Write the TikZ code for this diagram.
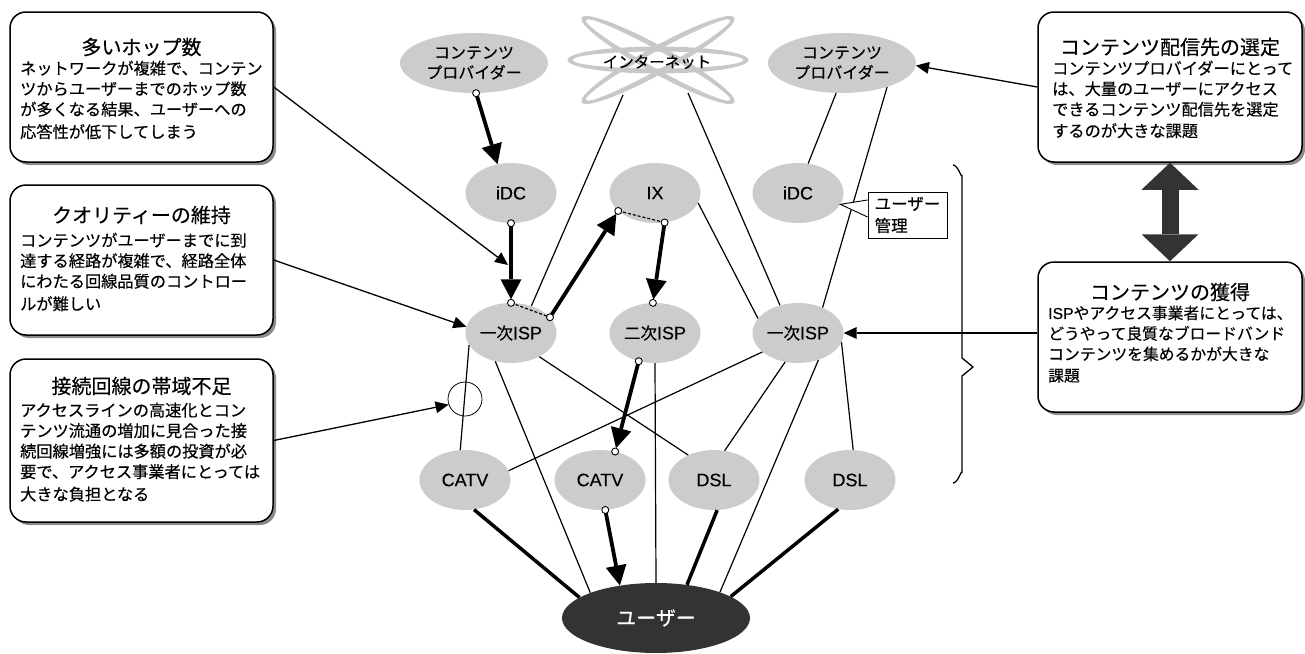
\documentclass[tikz,border=0pt]{standalone}
\usepackage{fontspec}
\setmainfont{Noto Sans CJK JP}[FakeBold=0.35]
\newfontfamily\lat{Liberation Sans}[FakeBold=0.25]
\usetikzlibrary{shapes.geometric,arrows.meta,shadows}
\definecolor{nodegray}{HTML}{CCCCCC}
\definecolor{darkfill}{HTML}{333333}
\definecolor{inetgray}{HTML}{C8C8C8}
\newcommand\latn[1]{{\lat\fontsize{18}{20}\selectfont #1}}
\begin{document}
\begin{tikzpicture}[x=1pt,y=-1pt,
 gnode/.style={ellipse, fill=nodegray, minimum width=91pt, minimum height=60pt, inner sep=0pt, font=\fontsize{16.5}{20}\selectfont, align=center},
 cpnode/.style={gnode, minimum width=148pt, font=\fontsize{16}{20}\selectfont},
 thinline/.style={line width=1.2pt},
 thickline/.style={line width=3.5pt},
 fatarrow/.style={line width=3.8pt, -{Triangle[length=20pt,width=21pt,line width=0pt]}, shorten <=3pt},
 callarrow/.style={line width=1.3pt, -{Triangle[length=13pt,width=12pt,line width=0pt]}},
 dotmark/.style={fill=white, draw=black, line width=0.9pt},
 dashedlink/.style={line width=1.2pt, dash pattern=on 3pt off 2pt},
 infobox/.style={draw, line width=1.5pt, rounded corners=16pt, fill=white, inner sep=0pt,
   drop shadow={shadow xshift=3pt, shadow yshift=-3pt, fill=black!45, opacity=1}},
 boxtitle/.style={font=\fontsize{20}{24}\selectfont, inner sep=0pt},
 boxbody/.style={font=\fontsize{16.2}{20.5}\selectfont, align=left, inner sep=0pt, anchor=north west},
 inetring/.style={fill=inetgray, even odd rule}
]
\useasboundingbox (0,0) rectangle (1305,653);

% internet
\fill[inetring] (658,60) ellipse[x radius=90.5pt, y radius=13.5pt] (658,60) ellipse[x radius=85.5pt, y radius=8.5pt];
\fill[inetring, rotate around={29:(658,60)}] (658,60) ellipse[x radius=87.5pt, y radius=13.5pt] (658,60) ellipse[x radius=82.5pt, y radius=8.5pt];
\fill[inetring, rotate around={-29:(658,60)}] (658,60) ellipse[x radius=87.5pt, y radius=13.5pt] (658,60) ellipse[x radius=82.5pt, y radius=8.5pt];
\node[font=\fontsize{15.5}{15}\selectfont, inner sep=0pt] (inet) at (657,62) {インターネット};
\coordinate (inetsw) at (623,95);
\coordinate (inetse) at (688,93);

% nodes
\node[cpnode] (cp1) at (474,63) {コンテンツ\\プロバイダー};
\node[cpnode] (cp2) at (842,63) {コンテンツ\\プロバイダー};
\node[gnode] (idc1) at (511,193) {\latn{iDC}};
\node[gnode] (ix) at (655,193) {\latn{IX}};
\node[gnode] (idc2) at (798,193) {\latn{iDC}};
\node[gnode] (isp1) at (511,333) {一次\latn{ISP}};
\node[gnode] (isp2) at (655,333) {二次\latn{ISP}};
\node[gnode] (isp3) at (798,333) {一次\latn{ISP}};
\node[gnode] (catv1) at (465,480) {\latn{CATV}};
\node[gnode] (catv2) at (600,480) {\latn{CATV}};
\node[gnode] (dsl1) at (714,480) {\latn{DSL}};
\node[gnode] (dsl2) at (850,480) {\latn{DSL}};
\node[ellipse, fill=darkfill, minimum width=188pt, minimum height=70pt, inner sep=0pt,
      text=white, font=\fontsize{20}{20}\selectfont] (user) at (656,618) {ユーザー};
\node[circle, draw, line width=0.8pt, minimum size=34pt, inner sep=0pt] (bwc) at (465,399) {};

% thin links
\draw[thinline] (inetsw) -- (isp1.53);
\draw[thinline] (inetse) -- (isp3.123);
\draw[thinline] (cp2.-101) -- (idc2.71);
\draw[thinline] (cp2.-28) -- (isp3.46);
\draw[thinline] (ix.-13) -- (isp3.160);
\draw[thinline] (isp1.196) -- (catv1.99);
\draw[thinline] (isp1.241) -- (user.159);
\draw[thinline] (isp1.-40) -- (dsl1.136);
\draw[thinline] (isp2.south) -- (user.north);
\draw[thinline] (isp3.208) -- (catv1.12);
\draw[thinline] (isp3.246) -- (dsl1.70);
\draw[thinline] (isp3.-53) -- (user.22);
\draw[thinline] (isp3.-12) -- (dsl2.84);
\draw[thickline] (catv1.-73) -- (user.165);
\draw[thickline] (dsl1.-84) -- (user.47);
\draw[thickline] (dsl2.248) -- (user.16);

% content flow
\draw[dashedlink] (isp1.90) -- (isp1.22);
\draw[dashedlink] (ix.206) -- (ix.-72);
\draw[fatarrow] (cp1.-86) -- (idc1.115);
\draw[fatarrow, shorten >=3.5pt] (idc1.-90) -- (isp1.90);
\draw[fatarrow, shorten >=3.5pt] (isp1.22) -- (ix.206);
\draw[fatarrow, shorten >=3.5pt] (ix.-72) -- (isp2.94);
\draw[fatarrow, shorten >=3.5pt] (isp2.240) -- (catv2.62);
\draw[fatarrow] (catv2.-80) -- (user.138);
\foreach \p in {cp1.-86, idc1.-90, isp1.90, isp1.22, ix.206, ix.-72, isp2.94, isp2.240, catv2.62, catv2.-80}
  \draw[dotmark] (\p) circle[radius=3.5pt];

% user management callout
\node[draw, line width=0.9pt, fill=white, minimum width=79pt, minimum height=46pt, inner sep=0pt,
      align=left, font=\fontsize{16.5}{22}\selectfont] (um) at (907.5,215) {ユーザー\\管理};
\fill[white] ([yshift=15pt,xshift=0.6pt]um.west) -- (idc2.-15) -- ([yshift=-2pt,xshift=0.6pt]um.west) -- cycle;
\draw[line width=0.9pt] ([yshift=15pt]um.west) -- (idc2.-15) -- ([yshift=-2pt]um.west);

% brace
\draw[line width=1.3pt] (953,165) to[out=0,in=-90] (962,175) -- (962,358) -- (973,367) -- (962,376) -- (962,473) to[out=90,in=0] (953,483);

% boxes
\node[infobox, minimum width=263pt, minimum height=150pt] (b1) at (141.5,87) {};
\node[infobox, minimum width=263pt, minimum height=150pt] (b2) at (141.5,260) {};
\node[infobox, minimum width=263pt, minimum height=163pt] (b3) at (141.5,440.5) {};
\node[infobox, minimum width=264pt, minimum height=150pt] (b4) at (1170,87) {};
\node[infobox, minimum width=264pt, minimum height=150pt] (b5) at (1170,337) {};

\node[boxtitle] (t1) at (141.5,47) {多いホップ数};
\node[boxbody] (x1) at (20,60.5) {ネットワークが複雑で、コンテン\\ツからユーザーまでのホップ数\\が多くなる結果、ユーザーへの\\[2pt]応答性が低下してしまう};
\node[boxtitle] (t2) at (141.5,215) {クオリティーの維持};
\node[boxbody] (x2) at (20,232.5) {コンテンツがユーザーまでに到\\達する経路が複雑で、経路全体\\にわたる回線品質のコントロー\\[2pt]ルが難しい};
\node[boxtitle] (t3) at (141.5,386) {接続回線の帯域不足};
\node[boxbody] (x3) at (20,402.5) {アクセスラインの高速化とコン\\テンツ流通の増加に見合った接\\続回線増強には多額の投資が必\\要で、アクセス事業者にとっては\\[2pt]大きな負担となる};
\node[boxtitle] (t4) at (1170,47) {コンテンツ配信先の選定};
\node[boxbody] (x4) at (1052,60.5) {コンテンツプロバイダーにとって\\は、大量のユーザーにアクセス\\できるコンテンツ配信先を選定\\[1pt]するのが大きな課題};
\node[boxtitle] (t5) at (1170,292) {コンテンツの獲得};
\node[boxbody, font=\fontsize{15.8}{20.5}\selectfont] (x5) at (1048,305.5) {{\lat ISP}やアクセス事業者にとっては、\\どうやって良質なブロードバンド\\コンテンツを集めるかが大きな\\[1pt]課題};

% callout arrows
\coordinate (hoptip) at (508,265);
\draw[callarrow] (b1.east) -- (hoptip);
\draw[callarrow] (b2.east) -- (isp1.172);
\draw[callarrow] (b3.east) -- (bwc.199);
\draw[callarrow] (b4.west) -- (cp2.-2);
\draw[callarrow] (b5.west |- isp3.east) -- (isp3.east);

% relation between the two right boxes
\draw[line width=17pt, draw=darkfill,
  {Triangle[length=27pt,width=57pt,line width=0pt]}-{Triangle[length=27pt,width=57pt,line width=0pt]}]
  (b4.south) -- (b5.north);
\end{tikzpicture}
\end{document}
